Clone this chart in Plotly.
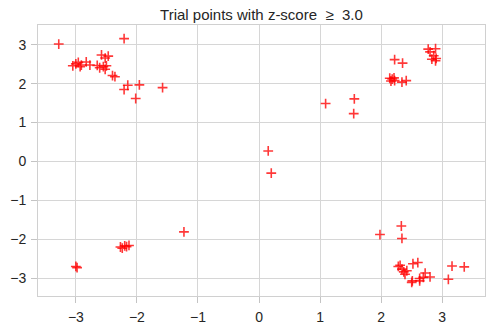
import plotly.graph_objects as go

# trial points whose z-score is >= 3.0
x_vals = [
    -3.28, -2.21, -3.05, -3.00, -2.96, -2.93, -2.91, -2.83, -2.77,
    -2.65, -2.61, -2.55, -2.52, -2.50, -2.58, -2.52, -2.47, -2.40, -2.36,
    -2.15, -2.21, -1.96, -2.02, -1.58,
    2.22, 2.35, 2.77, 2.80, 2.89, 2.86, 2.90, 2.89, 2.83,
    2.18, 2.14, 2.16, 2.21, 2.22, 2.34, 2.41,
    1.98, 2.33, 2.34, 2.28, 2.31, 2.34, 2.37, 2.39, 2.42, 2.52, 2.60,
    2.50, 2.51, 2.63, 2.63, 2.72, 2.69, 2.80, 3.10, 3.16, 3.36,
    -2.98, -3.00, -2.27, -2.24, -2.20, -2.17, -2.13,
    -1.23, 1.09, 1.56, 1.55, 0.15, 0.20,
]
y_vals = [
    3.02, 3.16, 2.46, 2.51, 2.55, 2.44, 2.48, 2.56, 2.48,
    2.47, 2.41, 2.44, 2.37, 2.46, 2.74, 2.66, 2.71, 2.21, 2.18,
    1.96, 1.85, 1.97, 1.62, 1.90,
    2.62, 2.53, 2.89, 2.82, 2.90, 2.72, 2.65, 2.59, 2.63,
    2.12, 2.14, 2.07, 2.15, 2.08, 2.04, 2.08,
    -1.88, -1.66, -1.98, -2.70, -2.67, -2.77, -2.84, -2.90, -2.81, -2.63, -2.60,
    -3.11, -3.07, -3.07, -3.01, -2.87, -2.98, -2.97, -3.03, -2.69, -2.71,
    -2.73, -2.70, -2.20, -2.23, -2.17, -2.19, -2.16,
    -1.81, 1.49, 1.61, 1.23, 0.27, -0.30,
]
tick_vals = [-3, -2, -1, 0, 1, 2, 3]

font_family = "Liberation Sans, Arial, sans-serif"

fig = go.Figure(
    go.Scatter(
        x=x_vals,
        y=y_vals,
        mode="markers",
        marker=dict(
            symbol="cross-thin",
            size=7,
            line=dict(color="rgba(255,0,0,0.78)", width=1.6),
        ),
        hoverinfo="x+y",
    )
)

axis_style = dict(
    tickvals=tick_vals,
    showgrid=True,
    gridcolor="#d6d6d6",
    gridwidth=1,
    zeroline=False,
    showline=True,
    linecolor="#d0d0d0",
    linewidth=1,
    mirror=True,
    ticks="outside",
    ticklen=6,
    tickcolor="#c4c4c4",
    automargin=False,
    tickfont=dict(family=font_family, size=14, color="#262626"),
)

fig.update_xaxes(range=[-3.62, 3.70], ticklabelstandoff=2, **axis_style)
fig.update_yaxes(range=[-3.46, 3.51], ticklabelstandoff=2, **axis_style)

fig.update_layout(
    width=498,
    height=332,
    margin=dict(l=38, r=13, t=25, b=36),
    paper_bgcolor="white",
    plot_bgcolor="white",
    showlegend=False,
    title=dict(
        text="Trial points with z-score  \u2265  3.0",
        x=0.525,
        xanchor="center",
        y=0.955,
        yanchor="middle",
        automargin=False,
        font=dict(family=font_family, size=15, color="#262626"),
    ),
)

# the page body keeps its default 8px margin otherwise
fig.write_html(
    "out.html",
    config={"displayModeBar": False},
    post_script="document.body.style.margin='0';",
)
